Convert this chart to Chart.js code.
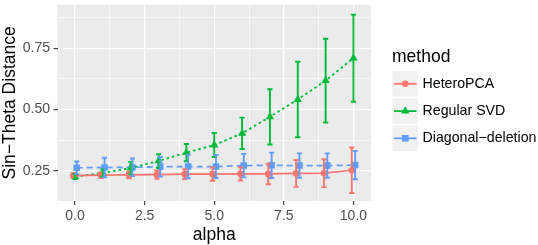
<!DOCTYPE html>
<html>
<head>
<meta charset="utf-8">
<script src="https://cdn.jsdelivr.net/npm/chart.js@4"></script>
<style>
  html, body { margin: 0; padding: 0; background: #fff; }
  #wrap { position: relative; width: 538px; height: 245px; }
</style>
</head>
<body>
<div id="wrap"><canvas id="chart" width="538" height="245"></canvas></div>
<script>
// values
const alpha = [0, 1, 2, 3, 4, 5, 6, 7, 8, 9, 10];

const heteroMean = [0.230, 0.232, 0.233, 0.234, 0.236, 0.236, 0.237, 0.237, 0.239, 0.240, 0.252];
const heteroErr = [0.010, 0.012, 0.014, 0.017, 0.020, 0.027, 0.027, 0.042, 0.055, 0.057, 0.093];

const svdMean = [0.226, 0.241, 0.261, 0.290, 0.324, 0.355, 0.403, 0.470, 0.541, 0.618, 0.710];
const svdErr = [0.010, 0.015, 0.025, 0.028, 0.035, 0.049, 0.064, 0.113, 0.154, 0.171, 0.178];

const diagMean = [0.262, 0.263, 0.264, 0.266, 0.267, 0.267, 0.271, 0.272, 0.271, 0.271, 0.273];
const diagErr = [0.026, 0.040, 0.036, 0.040, 0.048, 0.047, 0.048, 0.052, 0.050, 0.050, 0.058];

const methods = ["HeteroPCA", "Regular SVD", "Diagonal\u2212deletion"];

const xMajor = [0, 2.5, 5, 7.5, 10];
const xMinor = [1.25, 3.75, 6.25, 8.75];
const yMajor = [0.25, 0.5, 0.75];
const yMinor = [0.375, 0.625, 0.875];

const FONT = "'Liberation Sans', Arial, Helvetica, sans-serif";
const COLORS = ["#F8766D", "#00BA38", "#619CFF"];
const DODGE = [-0.06, 0, 0.06];

function series(mean, k) {
  return alpha.map((a, i) => ({ x: a + DODGE[k], y: mean[i] }));
}

const errs = [
  { mean: heteroMean, err: heteroErr },
  { mean: svdMean, err: svdErr },
  { mean: diagMean, err: diagErr },
];

const datasets = [
  {
    label: methods[0],
    data: series(heteroMean, 0),
    borderColor: COLORS[0],
    backgroundColor: COLORS[0],
    borderWidth: 1.7,
    pointStyle: "circle",
    pointRadius: 3.3,
  },
  {
    label: methods[1],
    data: series(svdMean, 1),
    borderColor: COLORS[1],
    backgroundColor: COLORS[1],
    borderWidth: 1.9,
    borderDash: [2.5, 3],
    pointStyle: "triangle",
    pointRadius: 4.8,
  },
  {
    label: methods[2],
    data: series(diagMean, 2),
    borderColor: COLORS[2],
    backgroundColor: COLORS[2],
    borderWidth: 1.7,
    borderDash: [6, 4],
    pointStyle: "rect",
    pointRadius: 4.6,
  },
];
datasets.forEach((d) => {
  d.showLine = true;
  d.pointBorderWidth = 0;
  d.pointHoverRadius = d.pointRadius;
  d.tension = 0;
});

// grey panel behind the grid
const panelBg = {
  id: "panelBg",
  beforeDraw(chart) {
    const a = chart.chartArea;
    const ctx = chart.ctx;
    ctx.save();
    ctx.fillStyle = "#EBEBEB";
    ctx.fillRect(a.left, a.top, a.right - a.left, a.bottom - a.top);
    ctx.restore();
  },
};

// error bars through the chart scales
const errorBars = {
  id: "errorBars",
  afterDatasetsDraw(chart) {
    const ctx = chart.ctx;
    const xs = chart.scales.x;
    const ys = chart.scales.y;
    ctx.save();
    errs.forEach((s, k) => {
      ctx.strokeStyle = COLORS[k];
      ctx.lineWidth = 1.9;
      ctx.setLineDash([]);
      alpha.forEach((a, i) => {
        const px = xs.getPixelForValue(a + DODGE[k]);
        const top = ys.getPixelForValue(s.mean[i] + s.err[i]);
        const bot = ys.getPixelForValue(s.mean[i] - s.err[i]);
        ctx.beginPath();
        ctx.moveTo(px, top);
        ctx.lineTo(px, bot);
        ctx.moveTo(px - 2.6, top);
        ctx.lineTo(px + 2.6, top);
        ctx.moveTo(px - 2.6, bot);
        ctx.lineTo(px + 2.6, bot);
        ctx.stroke();
      });
    });
    ctx.restore();
  },
};

// axis titles and ggplot-like legend
const titlesAndLegend = {
  id: "titlesAndLegend",
  afterDraw(chart) {
    const ctx = chart.ctx;
    const a = chart.chartArea;
    ctx.save();
    ctx.fillStyle = "#000";
    ctx.font = "17.5px " + FONT;
    ctx.textAlign = "center";
    ctx.textBaseline = "middle";
    ctx.fillText("alpha", (a.left + a.right) / 2, 235);

    ctx.save();
    ctx.translate(10, (a.top + a.bottom) / 2);
    ctx.rotate(-Math.PI / 2);
    ctx.fillText("Sin\u2212Theta Distance", 0, 0);
    ctx.restore();

    // legend
    ctx.textAlign = "left";
    ctx.fillText("method", 392, 57);
    const keyX = 392.5;
    const keySize = 25.5;
    const centers = [83.8, 111.1, 138.3];
    methods.forEach((m, k) => {
      const cy = centers[k];
      ctx.fillStyle = "#F2F2F2";
      ctx.fillRect(keyX, cy - keySize / 2, keySize, keySize);
      ctx.strokeStyle = COLORS[k];
      ctx.lineWidth = 1.8;
      ctx.beginPath();
      ctx.moveTo(keyX + 1.5, cy);
      ctx.lineTo(keyX + keySize - 1.5, cy);
      ctx.stroke();
      ctx.fillStyle = COLORS[k];
      const cx = keyX + keySize / 2;
      ctx.beginPath();
      if (k === 0) {
        ctx.arc(cx, cy, 3.3, 0, Math.PI * 2);
      } else if (k === 1) {
        ctx.moveTo(cx, cy - 4.8);
        ctx.lineTo(cx + 4.2, cy + 2.4);
        ctx.lineTo(cx - 4.2, cy + 2.4);
        ctx.closePath();
      } else {
        ctx.rect(cx - 3.3, cy - 3.3, 6.6, 6.6);
      }
      ctx.fill();
      ctx.fillStyle = "#000";
      ctx.font = "14.2px " + FONT;
      ctx.fillText(m, 422.5, cy);
    });
    ctx.restore();
  },
};

function isMajor(list, v) {
  return list.some((m) => Math.abs(m - v) < 1e-9);
}

const config = {
  type: "scatter",
  data: { datasets },
  options: {
    responsive: false,
    animation: false,
    events: [],
    layout: { padding: { left: 0, right: 167, top: 0, bottom: 0 } },
    plugins: { legend: { display: false }, tooltip: { enabled: false } },
    scales: {
      x: {
        type: "linear",
        min: -0.63,
        max: 10.63,
        border: { display: false },
        afterBuildTicks(scale) {
          scale.ticks = xMajor.concat(xMinor).sort((p, q) => p - q).map((v) => ({ value: v }));
        },
        afterFit(scale) {
          scale.height = 44;
          scale.paddingLeft = 0;
          scale.paddingRight = 0;
        },
        grid: {
          color: "#FFFFFF",
          lineWidth: (c) => (isMajor(xMajor, c.tick.value) ? 1.3 : 0.6),
          tickColor: (c) => (isMajor(xMajor, c.tick.value) ? "#333333" : "rgba(0,0,0,0)"),
          tickWidth: 1.1,
          tickLength: 4,
          drawTicks: true,
        },
        ticks: {
          autoSkip: false,
          maxRotation: 0,
          padding: 3,
          color: "#4D4D4D",
          font: { family: FONT, size: 14 },
          callback: (v) => (isMajor(xMajor, v) ? v.toFixed(1) : ""),
        },
      },
      y: {
        type: "linear",
        min: 0.1263,
        max: 0.928,
        border: { display: false },
        afterBuildTicks(scale) {
          scale.ticks = yMajor.concat(yMinor).sort((p, q) => p - q).map((v) => ({ value: v }));
        },
        afterFit(scale) {
          scale.width = 57.5;
          scale.paddingTop = 0;
          scale.paddingBottom = 0;
        },
        grid: {
          color: "#FFFFFF",
          lineWidth: (c) => (isMajor(yMajor, c.tick.value) ? 1.3 : 0.6),
          tickColor: (c) => (isMajor(yMajor, c.tick.value) ? "#333333" : "rgba(0,0,0,0)"),
          tickWidth: 1.1,
          tickLength: 4,
          drawTicks: true,
        },
        ticks: {
          autoSkip: false,
          padding: 3.5,
          color: "#4D4D4D",
          font: { family: FONT, size: 14 },
          callback: (v) => (isMajor(yMajor, v) ? v.toFixed(2) : ""),
        },
      },
    },
  },
  plugins: [panelBg, errorBars, titlesAndLegend],
};

window.addEventListener("DOMContentLoaded", function () {
  new Chart(document.getElementById("chart"), config);
});
</script>
</body>
</html>
